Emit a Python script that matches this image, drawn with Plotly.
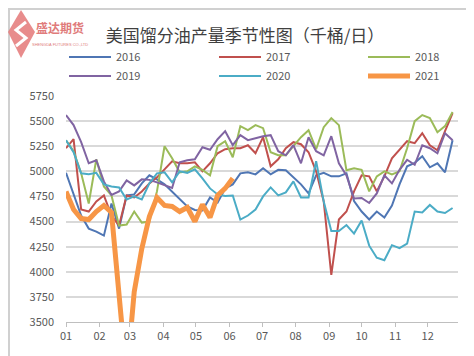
import datetime as dt
import plotly.graph_objects as go

years = ["2016", "2017", "2018", "2019", "2020", "2021"]
colors = ["#4f76b4", "#c0504d", "#9bbb59", "#8064a2", "#4bacc6", "#f79646"]

v2016 = [4985, 4780, 4560, 4430, 4400, 4360, 4680, 4430, 4760, 4770, 4880, 4960, 4920, 4870,
         4800, 4720, 4650, 4615, 4610, 4740, 4690, 4830, 4870, 4980, 4990, 4970, 5030, 4970,
         5015, 5010, 4935, 4870, 4780, 4960, 4985, 4950, 4950, 4980, 4705, 4600, 4520, 4600,
         4540, 4660, 4870, 5050, 5085, 5150, 5040, 5080, 4990, 5310]
v2017 = [5230, 5320, 4620, 4600, 4700, 4760, 4560, 4460, 4760, 4740, 4800, 4880, 4940, 5020,
         5100, 5080, 5080, 5090, 5000, 5080, 5180, 5220, 5230, 5230, 5260, 5180, 5340, 5050,
         5120, 5230, 5290, 5270, 5190, 5000, 4700, 3970, 4520, 4600, 4800, 4960, 4950, 4800,
         4950, 5130, 5220, 5300, 5280, 5380, 5260, 5210, 5400, 5580]
v2018 = [5310, 5200, 4980, 4680, 5120, 4850, 4760, 4460, 4470, 4600, 4490, 4500, 4800, 5250,
         5130, 4990, 5000, 5050, 5015, 4960, 5250, 5300, 5140, 5450, 5410, 5460, 5430, 5190,
         5160, 5160, 5250, 5340, 5410, 5220, 5440, 5530, 5460, 5010, 5030, 5015, 4800, 4950,
         5000, 4970, 5000, 5230, 5500, 5560, 5530, 5390, 5450, 5590]
v2019 = [5560, 5460, 5290, 5080, 5110, 4900, 4765, 4800, 4910, 4860, 4920, 4915, 4890, 4860,
         4835, 5090, 5110, 5120, 5240, 5215, 5320, 5400, 5260, 5360, 5310, 5330, 5350, 5360,
         5200, 5160, 5260, 5080, 5340, 5200, 5160, 5350, 5080, 4960, 4730, 4735, 4685, 4780,
         4960, 4880, 5015, 5115, 5065, 5260, 5230, 5180, 5380, 5310]
v2020 = [5310, 5190, 4980, 4970, 4985, 4870, 4850, 4840, 4720, 4750, 4720, 4880, 4980, 4990,
         4890, 5000, 4985, 5020, 4930, 4830, 4770, 4755, 4760, 4520, 4560, 4620, 4750, 4840,
         4760, 4790, 4900, 4740, 4740, 5100, 4700, 4405, 4405, 4465, 4380, 4510, 4260, 4140,
         4115, 4265, 4235, 4280, 4600, 4590, 4665, 4600, 4585, 4635]
v2021 = [4800, 4620, 4530, 4520, 4600, 4660, 4590, 3700, 2950, 3800, 4230, 4550, 4740, 4660,
         4650, 4600, 4640, 4500, 4670, 4540, 4760, 4830, 4930]

series = [v2016, v2017, v2018, v2019, v2020, v2021]
legend_ids = ["legend", "legend2", "legend3", "legend", "legend2", "legend3"]
month_labels = ["01", "02", "03", "04", "05", "06", "07", "08", "09", "10", "11", "12"]

start = dt.date(2021, 1, 1)
weeks = [start + dt.timedelta(days=7 * i) for i in range(52)]
month_ticks = [dt.date(2021, m, 1) for m in range(1, 13)]

FONT = "Noto Sans CJK SC, Liberation Sans, sans-serif"

fig = go.Figure()
for name, vals, col, lg in zip(years, series, colors, legend_ids):
    fig.add_trace(go.Scatter(
        x=weeks[:len(vals)], y=vals, name=name, mode="lines", legend=lg,
        line=dict(color=col, width=5 if name == "2021" else 2),
    ))

def legend_at(xp):
    return dict(orientation="v", x=(xp - 58) / 392, xanchor="left",
                y=1.237, yanchor="top", bgcolor="rgba(0,0,0,0)",
                font=dict(size=11, color="#595959", family=FONT),
                tracegroupgap=0, itemwidth=42)

fig.update_layout(
    width=474, height=356,
    margin=dict(l=58, r=24, t=88, b=42, autoexpand=False),
    paper_bgcolor="white", plot_bgcolor="white",
    font=dict(family=FONT, size=11, color="#595959"),
    title=dict(text="美国馏分油产量季节性图（千桶/日）", x=0.5, xanchor="center",
               y=1 - 28 / 356, yanchor="middle",
               font=dict(size=17, color="#404040", family=FONT)),
    showlegend=True,
    legend=legend_at(56),
    legend2=legend_at(206),
    legend3=legend_at(355),
    xaxis=dict(type="date", range=[dt.date(2021, 1, 1), dt.date(2021, 12, 29)],
               tickvals=month_ticks, ticktext=month_labels, automargin=False,
               showgrid=False, showline=True, linecolor="#bfbfbf", linewidth=1,
               ticks="outside", ticklen=4, tickcolor="#bfbfbf",
               tickfont=dict(size=11, color="#595959"), zeroline=False),
    yaxis=dict(range=[3500, 5750], tickvals=list(range(3500, 5751, 250)),
               automargin=False, ticklabelstandoff=11,
               showgrid=True, gridcolor="#d9d9d9", gridwidth=1.5,
               showline=False, zeroline=False, ticks="",
               tickfont=dict(size=11, color="#595959")),
)

# outer frame
fig.add_shape(type="rect", xref="paper", yref="paper",
              x0=(1 - 58) / 392, x1=(472 - 58) / 392,
              y0=(314 - 354) / 226, y1=(314 - 1) / 226,
              line=dict(color="#d0d0d0", width=2), fillcolor="rgba(0,0,0,0)", layer="below")

# logo
def px(xp):
    return (xp - 58) / 392

def py(yp):
    return (314 - yp) / 226

fig.add_shape(type="path", xref="paper", yref="paper",
              path=f"M {px(13)} {py(2)} L {px(27)} {py(24)} L {px(13)} {py(50)} L {px(0)} {py(24)} Z",
              fillcolor="#e58080", line=dict(width=0), opacity=0.9)
fig.add_shape(type="path", xref="paper", yref="paper",
              path=f"M {px(18)} {py(14)} L {px(8)} {py(22)} L {px(18)} {py(30)} L {px(8)} {py(38)}",
              line=dict(color="white", width=3))
fig.add_annotation(text="<b>盛达期货</b>", xref="paper", yref="paper",
                   x=px(52), y=py(19), xanchor="center", yanchor="middle", showarrow=False,
                   font=dict(size=12, color="#e07b7b", family=FONT))
fig.add_annotation(text="SHENGDA FUTURES CO.,LTD", xref="paper", yref="paper",
                   x=px(52), y=py(36), xanchor="center", yanchor="middle", showarrow=False,
                   font=dict(size=4, color="#e07b7b", family="Liberation Sans"))

fig.write_html("out.html")
